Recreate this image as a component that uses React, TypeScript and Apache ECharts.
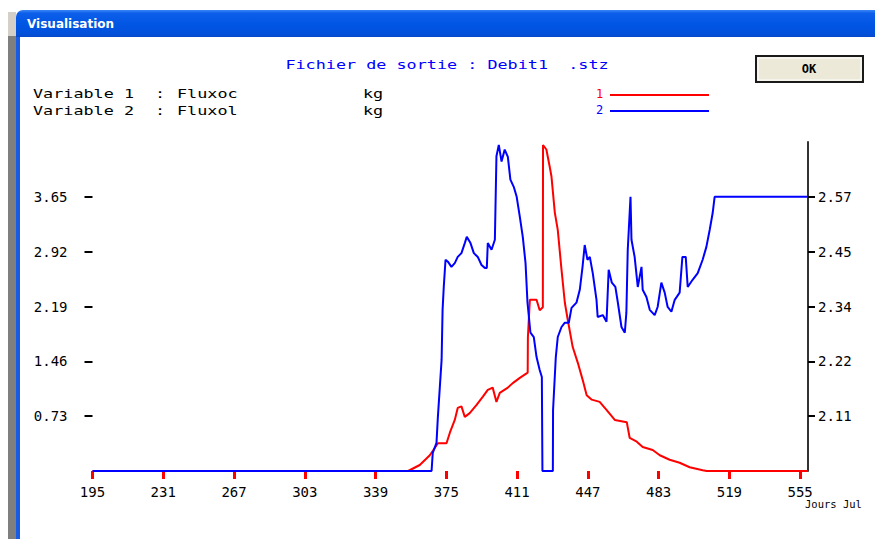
import { useEffect, useRef } from "react";
import * as echarts from "echarts";

// Day-of-year ticks along the bottom axis
const xTicks = [195, 231, 267, 303, 339, 375, 411, 447, 483, 519, 555];
// Left scale (variable 1) and right scale (variable 2) tick values
const leftTicks = [0.73, 1.46, 2.19, 2.92, 3.65];
const rightTicks = [2.11, 2.225, 2.34, 2.455, 2.57];

const dayMin = 195;
const dayMax = 559;
const leftMax = 4.38;
const rightMin = 1.995;
const rightMax = 2.685;

const fileTitle = "Fichier de sortie : Debit1  .stz";
const variableLabels = ["Variable 1", "Variable 2"];
const variableNames = ["Fluxoc", "Fluxol"];
const variableUnits = ["kg", "kg"];
const xUnit = "Jours Jul";

// Variable 1 : Fluxoc [day, kg]
const fluxoc: [number, number][] = [
  [195, 0], [355.6, 0], [361.5, 0.08], [366.6, 0.21], [369.2, 0.31], [370.7, 0.37],
  [375.1, 0.37], [376.8, 0.51], [379.3, 0.68], [380.8, 0.84], [382.7, 0.86], [384.4, 0.72],
  [386.9, 0.77], [390.4, 0.88], [393.6, 0.99], [396.1, 1.08], [398.6, 1.11], [400.5, 0.92],
  [402.2, 1.04], [406.3, 1.11], [408.8, 1.17], [412.4, 1.24], [416.4, 1.31], [416.5, 1.78],
  [417.5, 2.28], [420.9, 2.28], [422.5, 2.14], [424.1, 2.18], [424.2, 4.34], [425.9, 4.28],
  [427.6, 4.05], [428.5, 3.92], [430.2, 3.44], [431.7, 3.21], [433.6, 2.68], [435.3, 2.24],
  [436.8, 2.01], [439.3, 1.65], [441.9, 1.44], [444.4, 1.21], [446.4, 1.01], [449, 0.95],
  [453, 0.92], [456.6, 0.81], [460.7, 0.68], [466.8, 0.65], [468.3, 0.44], [471.9, 0.39],
  [474.9, 0.32], [480, 0.28], [483.6, 0.21], [488.6, 0.15], [493.7, 0.11], [498.8, 0.05],
  [505.4, 0.01], [507.5, 0], [559, 0],
];

// Variable 2 : Fluxol [day, kg]
const fluxol: [number, number][] = [
  [195, 1.995], [367.5, 1.995], [368.1, 2.033], [370, 2.054], [370.7, 2.108], [371.7, 2.171],
  [372.6, 2.228], [373.1, 2.333], [373.7, 2.381], [374.6, 2.438], [375.8, 2.434], [377.6, 2.423],
  [379.3, 2.431], [380.8, 2.444], [382.7, 2.452], [384.4, 2.473], [385.4, 2.486], [387.3, 2.473],
  [389, 2.452], [391, 2.444], [392.9, 2.427], [394.6, 2.421], [395.6, 2.421], [396.1, 2.473],
  [398, 2.459], [399.7, 2.48], [400.5, 2.655], [401.7, 2.679], [403.1, 2.644], [404.7, 2.669],
  [406.3, 2.654], [407.6, 2.606], [409.3, 2.591], [410.8, 2.57], [412.4, 2.528], [413.9, 2.486],
  [415.3, 2.431], [416.3, 2.348], [417.8, 2.285], [419.5, 2.276], [420.9, 2.234], [422.5, 2.207],
  [423.6, 2.192], [423.9, 1.995], [429.2, 1.995], [429.3, 2.123], [430.7, 2.234], [431.7, 2.276],
  [433.6, 2.297], [435.3, 2.306], [437.3, 2.306], [438.7, 2.337], [441.2, 2.348], [442.9, 2.375],
  [444.3, 2.423], [445.4, 2.469], [446.8, 2.438], [448, 2.444], [449.5, 2.41], [451.4, 2.354],
  [452, 2.318], [454.6, 2.322], [456.5, 2.308], [457.6, 2.417], [459.2, 2.39], [461, 2.381],
  [462.2, 2.35], [464.1, 2.297], [465.8, 2.285], [466.6, 2.327], [467.3, 2.459], [468.7, 2.57],
  [469.2, 2.48], [470.8, 2.444], [472.4, 2.381], [474.3, 2.423], [474.9, 2.375], [476.8, 2.36],
  [478.5, 2.333], [481, 2.322], [482.5, 2.339], [484.4, 2.39], [486.1, 2.369], [487.6, 2.339],
  [489.5, 2.329], [491.2, 2.354], [493.7, 2.369], [495.1, 2.444], [496.8, 2.444], [497.8, 2.381],
  [500.3, 2.396], [502.9, 2.41], [505.4, 2.438], [507.3, 2.465], [509, 2.501], [510.5, 2.536],
  [511.5, 2.57], [559, 2.57],
];

const MONO = "DejaVu Sans Mono";
const RED = "#ff0000";
const BLUE = "#0000ff";

const monoText = (
  text: string,
  x: number,
  y: number,
  fill: string,
  opts: { size?: number; sx?: number; align?: string; weight?: string } = {}
) => ({
  type: "text",
  x,
  y,
  scaleX: opts.sx ?? 1.4,
  silent: true,
  style: {
    text,
    fill,
    fontFamily: MONO,
    fontSize: opts.size ?? 12,
    fontWeight: opts.weight ?? "normal",
    align: opts.align ?? "left",
    verticalAlign: "middle",
  },
});

export default function App() {
  const ref = useRef<HTMLDivElement>(null);

  useEffect(() => {
    if (!ref.current) return;
    const chart = echarts.init(ref.current, null, { renderer: "svg" });

    const titleGradient = new echarts.graphic.LinearGradient(0, 0, 0, 1, [
      { offset: 0, color: "#3A86F6" },
      { offset: 0.12, color: "#0D5FEA" },
      { offset: 0.55, color: "#0055E3" },
      { offset: 0.9, color: "#0450DA" },
      { offset: 1, color: "#0A48C8" },
    ]);

    const truncate2 = (v: number) => (Math.floor(v * 100 + 1e-6) / 100).toFixed(2);

    const labelStyle = { color: "#000", fontFamily: MONO, fontSize: 14 };

    chart.setOption({
      animation: false,
      backgroundColor: "#ffffff",
      grid: { left: 92.5, right: 67, top: 142, bottom: 68, containLabel: false },
      xAxis: {
        type: "value",
        min: dayMin,
        max: dayMax,
        axisLine: { show: false },
        axisTick: {
          show: true,
          customValues: xTicks,
          length: 8,
          lineStyle: { color: RED, width: 3 },
        },
        axisLabel: {
          customValues: xTicks,
          margin: 14,
          ...labelStyle,
          formatter: (v: number) => String(Math.round(v)),
        },
        splitLine: { show: false },
      },
      yAxis: [
        {
          type: "value",
          position: "left",
          min: 0,
          max: leftMax,
          axisLine: { show: false },
          axisTick: {
            show: true,
            customValues: leftTicks,
            length: 8,
            lineStyle: { color: "#000", width: 2 },
          },
          axisLabel: {
            customValues: leftTicks,
            margin: 25,
            ...labelStyle,
            formatter: (v: number) => v.toFixed(2),
          },
          splitLine: { show: false },
        },
        {
          type: "value",
          position: "right",
          min: rightMin,
          max: rightMax,
          axisLine: { show: true, lineStyle: { color: "#333", width: 2 } },
          axisTick: {
            show: true,
            customValues: rightTicks,
            length: 7,
            lineStyle: { color: "#000", width: 2 },
          },
          axisLabel: {
            customValues: rightTicks,
            margin: 10,
            ...labelStyle,
            formatter: (v: number) => truncate2(v),
          },
          splitLine: { show: false },
        },
      ],
      series: [
        {
          name: variableNames[0],
          type: "line",
          yAxisIndex: 0,
          data: fluxoc,
          showSymbol: false,
          clip: false,
          lineStyle: { color: RED, width: 2 },
          itemStyle: { color: RED },
          z: 2,
        },
        {
          name: variableNames[1],
          type: "line",
          yAxisIndex: 1,
          data: fluxol,
          showSymbol: false,
          clip: false,
          lineStyle: { color: BLUE, width: 2 },
          itemStyle: { color: BLUE },
          z: 3,
        },
      ],
      graphic: [
        // window frame
        { type: "rect", silent: true, shape: { x: 8, y: 12, width: 8, height: 24 }, style: { fill: "#D4D0C8" } },
        { type: "rect", silent: true, shape: { x: 8, y: 36, width: 8, height: 503 }, style: { fill: "#7F7F7F" } },
        { type: "rect", silent: true, shape: { x: 16, y: 36, width: 4, height: 503 }, style: { fill: "#1A5BE6" } },
        {
          type: "rect",
          silent: true,
          shape: { x: 16, y: 10, width: 859, height: 27, r: [7, 0, 0, 0] },
          style: { fill: titleGradient },
        },
        {
          type: "text",
          x: 27,
          y: 24,
          silent: true,
          style: {
            text: "Visualisation",
            fill: "#ffffff",
            fontFamily: "DejaVu Sans",
            fontWeight: "bold",
            fontSize: 12,
            align: "left",
            verticalAlign: "middle",
          },
        },
        // header
        monoText(fileTitle, 447, 64, BLUE, { align: "center" }),
        monoText(variableLabels[0], 33, 93, "#000"),
        monoText(":", 155, 93, "#000"),
        monoText(variableNames[0], 177, 93, "#000"),
        monoText(variableUnits[0], 363, 93, "#000"),
        monoText(variableLabels[1], 33, 110, "#000"),
        monoText(":", 155, 110, "#000"),
        monoText(variableNames[1], 177, 110, "#000"),
        monoText(variableUnits[1], 363, 110, "#000"),
        // series key
        monoText("1", 596, 94, RED, { sx: 1 }),
        monoText("2", 596, 110, BLUE, { sx: 1 }),
        { type: "line", silent: true, shape: { x1: 610, y1: 95, x2: 709, y2: 95 }, style: { stroke: RED, lineWidth: 2 } },
        { type: "line", silent: true, shape: { x1: 610, y1: 111, x2: 709, y2: 111 }, style: { stroke: BLUE, lineWidth: 2 } },
        // OK button
        {
          type: "rect",
          silent: true,
          shape: { x: 756, y: 56, width: 107, height: 26 },
          style: { fill: "#ECE9D8", stroke: "#1a1a1a", lineWidth: 2 },
        },
        {
          type: "rect",
          silent: true,
          shape: { x: 758, y: 58, width: 103, height: 22 },
          style: { fill: "none", stroke: "#ffffff", lineWidth: 1 },
        },
        monoText("OK", 809, 69, "#000", { align: "center", sx: 1, weight: "bold" }),
        // x unit
        monoText(xUnit, 805, 504, "#000", { size: 10, sx: 1.05 }),
      ],
    });

    return () => chart.dispose();
  }, []);

  return (
    <div
      ref={ref}
      style={{ position: "fixed", left: 0, top: 0, width: 875, height: 539, background: "#fff" }}
    />
  );
}
